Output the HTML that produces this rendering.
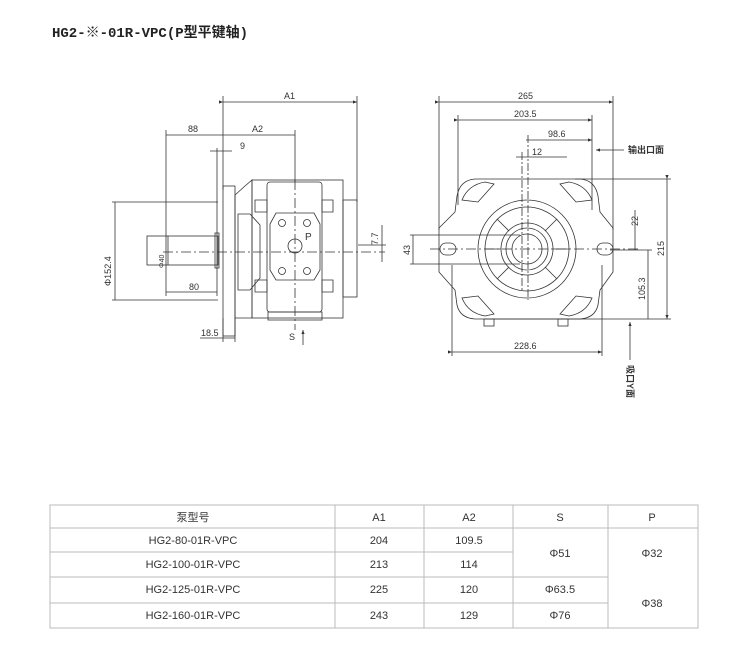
<!DOCTYPE html>
<html><head><meta charset="utf-8"><style>
body{margin:0;background:#fff;}
svg{display:block;}
text{font-family:"Liberation Sans","Noto Sans CJK SC",sans-serif;fill:#333;}
.t{font-family:"Liberation Sans","Noto Sans CJK SC",sans-serif;font-size:11px;fill:#555;}
</style></head><body>
<svg width="750" height="652" viewBox="0 0 750 652" xmlns="http://www.w3.org/2000/svg">
<defs><marker id="a" markerWidth="6" markerHeight="6" refX="5" refY="3" orient="auto"><path d="M0,1 L5,3 L0,5z" fill="#333"/></marker></defs>
<text x="52" y="37" style="font-size:14px;font-weight:bold;font-family:'Liberation Mono','Noto Sans CJK SC',monospace;fill:#222">HG2-※-01R-VPC(P型平键轴)</text>
<g stroke="#333" stroke-width="0.8" fill="none">
<line x1="223" y1="102" x2="357" y2="102" marker-start="url(#a)" marker-end="url(#a)"/>
<line x1="223" y1="96" x2="223" y2="190"/><line x1="357" y1="96" x2="357" y2="202"/>
<line x1="166" y1="135" x2="295" y2="135"/>
<line x1="166" y1="130" x2="166" y2="296"/><line x1="295" y1="130" x2="295" y2="182"/>
<line x1="210" y1="151" x2="232" y2="151"/><line x1="217" y1="148" x2="217" y2="296"/>
<line x1="115" y1="202" x2="115" y2="300"/><line x1="112" y1="202" x2="218" y2="202"/><line x1="112" y1="300" x2="218" y2="300"/>
<line x1="166" y1="292" x2="217" y2="292"/>
<line x1="200" y1="338" x2="235" y2="338"/><line x1="235" y1="318" x2="235" y2="342"/><line x1="223" y1="318" x2="223" y2="342"/>
<line x1="163" y1="252" x2="385" y2="252" stroke-dasharray="10,3,2,3"/>
<line x1="295" y1="180" x2="295" y2="330" stroke-dasharray="10,3,2,3"/>
<line x1="382" y1="225" x2="382" y2="262"/><line x1="358" y1="245" x2="386" y2="245"/>
<line x1="303" y1="345" x2="303" y2="330" marker-end="url(#a)"/>
<rect x="147" y="236" width="71" height="29"/><line x1="168" y1="236" x2="168" y2="265"/><rect x="215" y="233" width="4" height="35"/>
<rect x="223" y="186" width="12" height="150"/>
<path d="M235,195 L245,186 L252,180 L252,318 L235,318z"/>
<path d="M238,214 L250,214 L260,225 L260,278 L250,290 L238,290z"/>
<rect x="252" y="180" width="91" height="138"/>
<rect x="267" y="182" width="55" height="130" rx="3"/>
<rect x="268" y="312" width="54" height="8"/>
<path d="M255,200 L267,200 L267,212 L255,212z M322,200 L333,200 L333,212 L322,212z M255,280 L267,280 L267,292 L255,292z M322,280 L333,280 L333,292 L322,292z"/>
<rect x="343" y="200" width="14" height="97"/>
<path d="M276,213 L314,213 L320,224 L320,270 L314,280 L276,280 L270,270 L270,224z"/>
<circle cx="282" cy="223" r="3.5"/><circle cx="307" cy="223" r="3.5"/><circle cx="282" cy="271" r="3.5"/><circle cx="307" cy="271" r="3.5"/>
<circle cx="295" cy="246" r="7"/>
<line x1="439" y1="102" x2="613" y2="102" marker-start="url(#a)" marker-end="url(#a)"/>
<line x1="439" y1="96" x2="439" y2="230"/><line x1="613" y1="96" x2="613" y2="230"/>
<line x1="458" y1="120" x2="592" y2="120" marker-start="url(#a)" marker-end="url(#a)"/>
<line x1="458" y1="115" x2="458" y2="205"/><line x1="592" y1="115" x2="592" y2="210"/>
<line x1="526" y1="140" x2="592" y2="140" marker-end="url(#a)"/>
<line x1="516" y1="157" x2="567" y2="157"/>
<line x1="522" y1="152" x2="522" y2="290" stroke-dasharray="8,2,2,2"/><line x1="528" y1="135" x2="528" y2="300" stroke-dasharray="8,2,2,2"/>
<line x1="624" y1="150" x2="596" y2="150" marker-end="url(#a)"/>
<line x1="413" y1="235" x2="413" y2="264"/><line x1="410" y1="235" x2="520" y2="235"/><line x1="410" y1="264" x2="520" y2="264"/>
<line x1="635" y1="210" x2="635" y2="250"/>
<line x1="430" y1="249" x2="640" y2="249" stroke-dasharray="10,3,2,3"/>
<line x1="648" y1="250" x2="648" y2="319"/><line x1="610" y1="250" x2="652" y2="250"/>
<line x1="667" y1="179" x2="667" y2="319" marker-start="url(#a)" marker-end="url(#a)"/>
<line x1="575" y1="179" x2="671" y2="179"/><line x1="490" y1="319" x2="671" y2="319"/>
<line x1="452" y1="352" x2="602" y2="352" marker-start="url(#a)" marker-end="url(#a)"/>
<line x1="452" y1="265" x2="452" y2="356"/><line x1="602" y1="265" x2="602" y2="356"/>
<line x1="630" y1="360" x2="630" y2="322" marker-end="url(#a)"/>
<path d="M475,179 L580,179 Q595,180 598,196 L600,212 L613,228 L613,272 L600,290 L598,305 Q595,318 580,319 L475,319 Q460,318 457,305 L455,290 L439,272 L439,228 L455,212 L457,196 Q460,180 475,179z"/>
<path d="M462,200 Q468,185 485,182 L494,184 L478,202z M592,200 Q586,185 569,182 L560,184 L576,202z M462,298 Q468,313 485,316 L494,314 L478,296z M592,298 Q586,313 569,316 L560,314 L576,296z"/>
<rect x="484" y="319" width="10" height="7"/><rect x="558" y="319" width="10" height="7"/>
<rect x="440" y="243" width="16" height="12" rx="6"/><rect x="597" y="243" width="16" height="12" rx="6"/>
<circle cx="527" cy="249" r="49"/><circle cx="527" cy="249" r="42"/>
<circle cx="527" cy="249" r="26"/><circle cx="527" cy="249" r="21"/><circle cx="527" cy="249" r="15"/>
<path d="M497,219 L509,231 M557,219 L545,231 M497,279 L509,267 M557,279 L545,267 M485,249 L501,249 M553,249 L569,249"/>
</g>
<g style="font-size:9px">
<text x="284" y="99">A1</text><text x="188" y="132">88</text><text x="252" y="132">A2</text><text x="240" y="149">9</text>
<text x="189" y="290">80</text><text x="201" y="336">18.5</text><text x="289" y="340">S</text>
<text x="305" y="240" style="font-size:10px">P</text>
<text transform="translate(111,286) rotate(-90)">Φ152.4</text>
<text transform="translate(164,268) rotate(-90)" style="font-size:7px">Φ40</text>
<text transform="translate(378,245) rotate(-90)">7.7</text>
<text x="518" y="99">265</text><text x="514" y="117">203.5</text><text x="548" y="137">98.6</text>
<text x="532" y="155">12</text>
<text x="628" y="153" style="font-size:9px;font-weight:bold">输出口面</text>
<text transform="translate(410,255) rotate(-90)">43</text>
<text transform="translate(638,226) rotate(-90)">22</text>
<text transform="translate(664,256) rotate(-90)">215</text>
<text transform="translate(645,300) rotate(-90)">105.3</text>
<text x="514" y="349">228.6</text>
<text transform="translate(627,365) rotate(90)" style="font-weight:bold">吸口Y面</text>
</g>
<g stroke="#bbb" stroke-width="1" fill="none">
<rect x="50" y="505" width="648" height="123"/>
<line x1="50" y1="528" x2="698" y2="528"/>
<line x1="50" y1="552" x2="513" y2="552"/>
<line x1="50" y1="577" x2="608" y2="577"/>
<line x1="50" y1="603" x2="608" y2="603"/>
<line x1="335" y1="505" x2="335" y2="628"/><line x1="424" y1="505" x2="424" y2="628"/>
<line x1="513" y1="505" x2="513" y2="628"/><line x1="608" y1="505" x2="608" y2="628"/>
</g>
<g class="t" text-anchor="middle">
<text x="193" y="521">泵型号</text><text x="379" y="521">A1</text><text x="469" y="521">A2</text><text x="560" y="521">S</text><text x="652" y="521">P</text>
<text x="193" y="544">HG2-80-01R-VPC</text><text x="379" y="544">204</text><text x="469" y="544">109.5</text>
<text x="193" y="568">HG2-100-01R-VPC</text><text x="379" y="568">213</text><text x="469" y="568">114</text>
<text x="560" y="557">Φ51</text><text x="652" y="557">Φ32</text>
<text x="193" y="593">HG2-125-01R-VPC</text><text x="379" y="593">225</text><text x="469" y="593">120</text><text x="560" y="593">Φ63.5</text>
<text x="193" y="619">HG2-160-01R-VPC</text><text x="379" y="619">243</text><text x="469" y="619">129</text><text x="560" y="619">Φ76</text>
<text x="652" y="607">Φ38</text>
</g>
</svg>
</body></html>
